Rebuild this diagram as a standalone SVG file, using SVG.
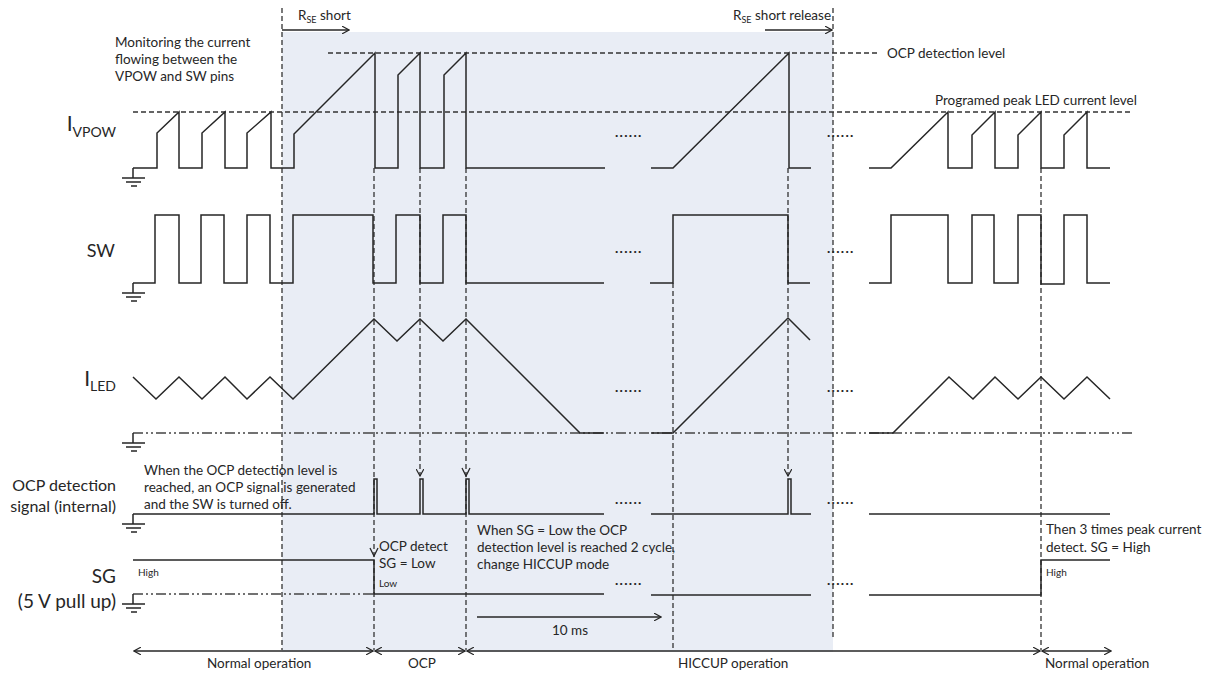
<svg xmlns="http://www.w3.org/2000/svg" width="1207" height="675" viewBox="0 0 1207 675">
<style>
.w{fill:none;stroke:#262626;stroke-width:1.5;stroke-linejoin:miter}
.d{fill:none;stroke:#333;stroke-width:1.3;stroke-dasharray:5 3}
.dd{fill:none;stroke:#444;stroke-width:1.3;stroke-dasharray:10 3 2 3 2 3}
.a{fill:none;stroke:#262626;stroke-width:1.3}
.t{font-family:Lato,"Liberation Sans",sans-serif;fill:#262626;font-size:13.5px}
.s{font-size:10px}
.L{font-family:Lato,"Liberation Sans",sans-serif;fill:#262626;text-anchor:end}
.dots{font-family:Lato,"Liberation Sans",sans-serif;fill:#262626;font-size:14px;letter-spacing:1.3px;font-weight:bold}
</style>
<defs>
<marker id="ah" viewBox="0 0 10 10" refX="9" refY="5" markerWidth="8" markerHeight="8" markerUnits="userSpaceOnUse" orient="auto-start-reverse">
<path d="M0,0 L9,5 L0,10" fill="none" stroke="#262626" stroke-width="1.5"/>
</marker>
<g id="gnd"><path d="M0,0 V10 M-11,10 H12 M-7,14 H8 M-2,18 H4" fill="none" stroke="#262626" stroke-width="1.5"/></g>
</defs>
<rect width="1207" height="675" fill="#fff"/>
<rect id="shade" x="282" y="32" width="551" height="620" fill="#e9edf5"/>

<g id="levels">
<line class="d" x1="328" y1="53" x2="880" y2="53"/>
<line class="d" x1="133" y1="112" x2="1133" y2="112"/>
<line class="dd" x1="133" y1="433" x2="1133" y2="433"/>
<line class="dd" x1="133" y1="594" x2="374" y2="594"/>
</g>

<g id="connectors">
<line class="d" x1="282" y1="8" x2="282" y2="650"/>
<line class="d" x1="833" y1="8" x2="833" y2="637"/>
<line class="d" x1="374" y1="168" x2="374" y2="650"/>
<line class="d" x1="420" y1="168" x2="420" y2="476" marker-end="url(#ah)"/>
<line class="d" x1="466" y1="168" x2="466" y2="650"/>
<path class="a" d="M462,468 L466,476 L470,468"/>
<path class="a" d="M370,548 L374,556 L378,548"/>
<line class="d" x1="673" y1="283" x2="673" y2="650"/>
<line class="d" x1="788" y1="168" x2="788" y2="476" marker-end="url(#ah)"/>
<line class="d" x1="1041" y1="168" x2="1041" y2="650"/>
<line class="a" x1="282" y1="30" x2="349" y2="30" marker-end="url(#ah)"/>
<line class="a" x1="765" y1="30" x2="832" y2="30" marker-end="url(#ah)"/>
<line class="a" x1="477" y1="617" x2="661" y2="617" marker-end="url(#ah)"/>
<line class="a" x1="134" y1="651" x2="373" y2="651" marker-start="url(#ah)" marker-end="url(#ah)"/>
<line class="a" x1="375" y1="651" x2="465" y2="651" marker-start="url(#ah)" marker-end="url(#ah)"/>
<line class="a" x1="467" y1="651" x2="1040" y2="651" marker-start="url(#ah)" marker-end="url(#ah)"/>
<line class="a" x1="1042" y1="651" x2="1111" y2="651" marker-start="url(#ah)" marker-end="url(#ah)"/>
</g>

<g id="ivpow">
<text class="L" x="116" y="131" font-size="21">I<tspan font-size="14" dy="6">VPOW</tspan></text>
<use href="#gnd" x="133" y="168"/>
<path class="w" d="M133,168 H157 V133 L179,112 V168 H202 V133 L225,112 V168 H247 V133 L271,112 V168 H294 V134 L375,53 V168 H398 V75 L420,53 V168 H444 V75 L466,53 V168 H605"/>
<path class="w" d="M651,168 H673 L789,53 V168 H811"/>
<path class="w" d="M869,168 H891 L948,112 V168 H972 V135 L995,112 V168 H1018 V135 L1041,112 V168 H1064 V135 L1087,112 V168 H1110"/>
<text class="dots" x="615" y="137">......</text>
<text class="dots" x="827" y="137">......</text>
</g>

<g id="sw">
<text class="L" x="115" y="257" font-size="18">SW</text>
<use href="#gnd" x="133" y="283"/>
<path class="w" d="M133,283 H155 V215 H179 V283 H201 V215 H224 V283 H247 V215 H270 V283 H293 V215 H373 V283 H396 V215 H420 V283 H443 V215 H466 V283 H604"/>
<path class="w" d="M650,283 H673 V215 H788 V283 H810"/>
<path class="w" d="M869,283 H891 V215 H948 V283 H972 V215 H994 V283 H1018 V215 H1041 V284 H1064 V215 H1087 V283 H1110"/>
<text class="dots" x="615" y="253">......</text>
<text class="dots" x="827" y="253">......</text>
</g>

<g id="iled">
<text class="L" x="116" y="386" font-size="21">I<tspan font-size="14" dy="5">LED</tspan></text>
<use href="#gnd" x="133" y="433"/>
<path class="w" d="M133,377 L156,399 L179,377 L202,399 L225,377 L247,399 L270,377 L293,399 L374,319 L397,341 L420,319 L443,341 L466,319 L580,433 H604"/>
<path class="w" d="M651,433 H673 L788,318 L810,340"/>
<path class="w" d="M869,433 H893 L949,377 L973,399 L995,377 L1018,399 L1041,377 L1064,399 L1087,377 L1110,399"/>
<text class="dots" x="615" y="392">......</text>
<text class="dots" x="827" y="392">......</text>
</g>

<g id="ocp">
<text class="L" x="116" y="491" font-size="16">OCP detection</text>
<text class="L" x="116" y="512" font-size="16">signal (internal)</text>
<use href="#gnd" x="133" y="514"/>
<path class="w" d="M133,514 H374 V479 H377 V514 H420 V479 H423 V514 H466 V479 H469 V514 H604"/>
<path class="w" d="M651,514 H788 V479 H791 V514 H811"/>
<path class="w" d="M869,514 H1110"/>
<text class="dots" x="615" y="504">......</text>
<text class="dots" x="827" y="504">......</text>
</g>

<g id="sg">
<text class="L" x="116" y="583" font-size="19">SG</text>
<text class="L" x="116" y="608" font-size="19">(5 V pull up)</text>
<use href="#gnd" x="133" y="594"/>
<path class="w" d="M133,560 H374 V594 H604"/>
<path class="w" d="M651,595 H811"/>
<path class="w" d="M869,595 H1041 V560 H1110"/>
<text class="t s" x="138" y="576">High</text>
<text class="t s" x="379" y="587">Low</text>
<text class="t s" x="1046" y="576">High</text>
<text class="dots" x="615" y="585">......</text>
<text class="dots" x="827" y="585">......</text>
</g>

<g id="notes">
<text class="t" x="298" y="20">R<tspan font-size="9" dy="3">SE</tspan><tspan dy="-3"> short</tspan></text>
<text class="t" x="733" y="20">R<tspan font-size="9" dy="3">SE</tspan><tspan dy="-3"> short release</tspan></text>
<text class="t" x="115" y="47">Monitoring the current</text>
<text class="t" x="115" y="64">flowing between the</text>
<text class="t" x="115" y="81">VPOW and SW pins</text>
<text class="t" x="887" y="58">OCP detection level</text>
<text class="t" x="935" y="105">Programed peak LED current level</text>
<text class="t" x="144" y="475">When the OCP detection level is</text>
<text class="t" x="144" y="492">reached, an OCP signal is generated</text>
<text class="t" x="144" y="509">and the SW is turned off.</text>
<text class="t" x="379" y="551">OCP detect</text>
<text class="t" x="379" y="568">SG = Low</text>
<text class="t" x="477" y="535">When SG = Low the OCP</text>
<text class="t" x="477" y="552">detection level is reached 2 cycle,</text>
<text class="t" x="477" y="569">change HICCUP mode</text>
<text class="t" x="1046" y="534">Then 3 times peak current</text>
<text class="t" x="1046" y="552">detect. SG = High</text>
<text class="t" x="552" y="635">10 ms</text>
<text class="t" x="207" y="668">Normal operation</text>
<text class="t" x="408" y="668">OCP</text>
<text class="t" x="678" y="668">HICCUP operation</text>
<text class="t" x="1045" y="668">Normal operation</text>
</g>
</svg>
